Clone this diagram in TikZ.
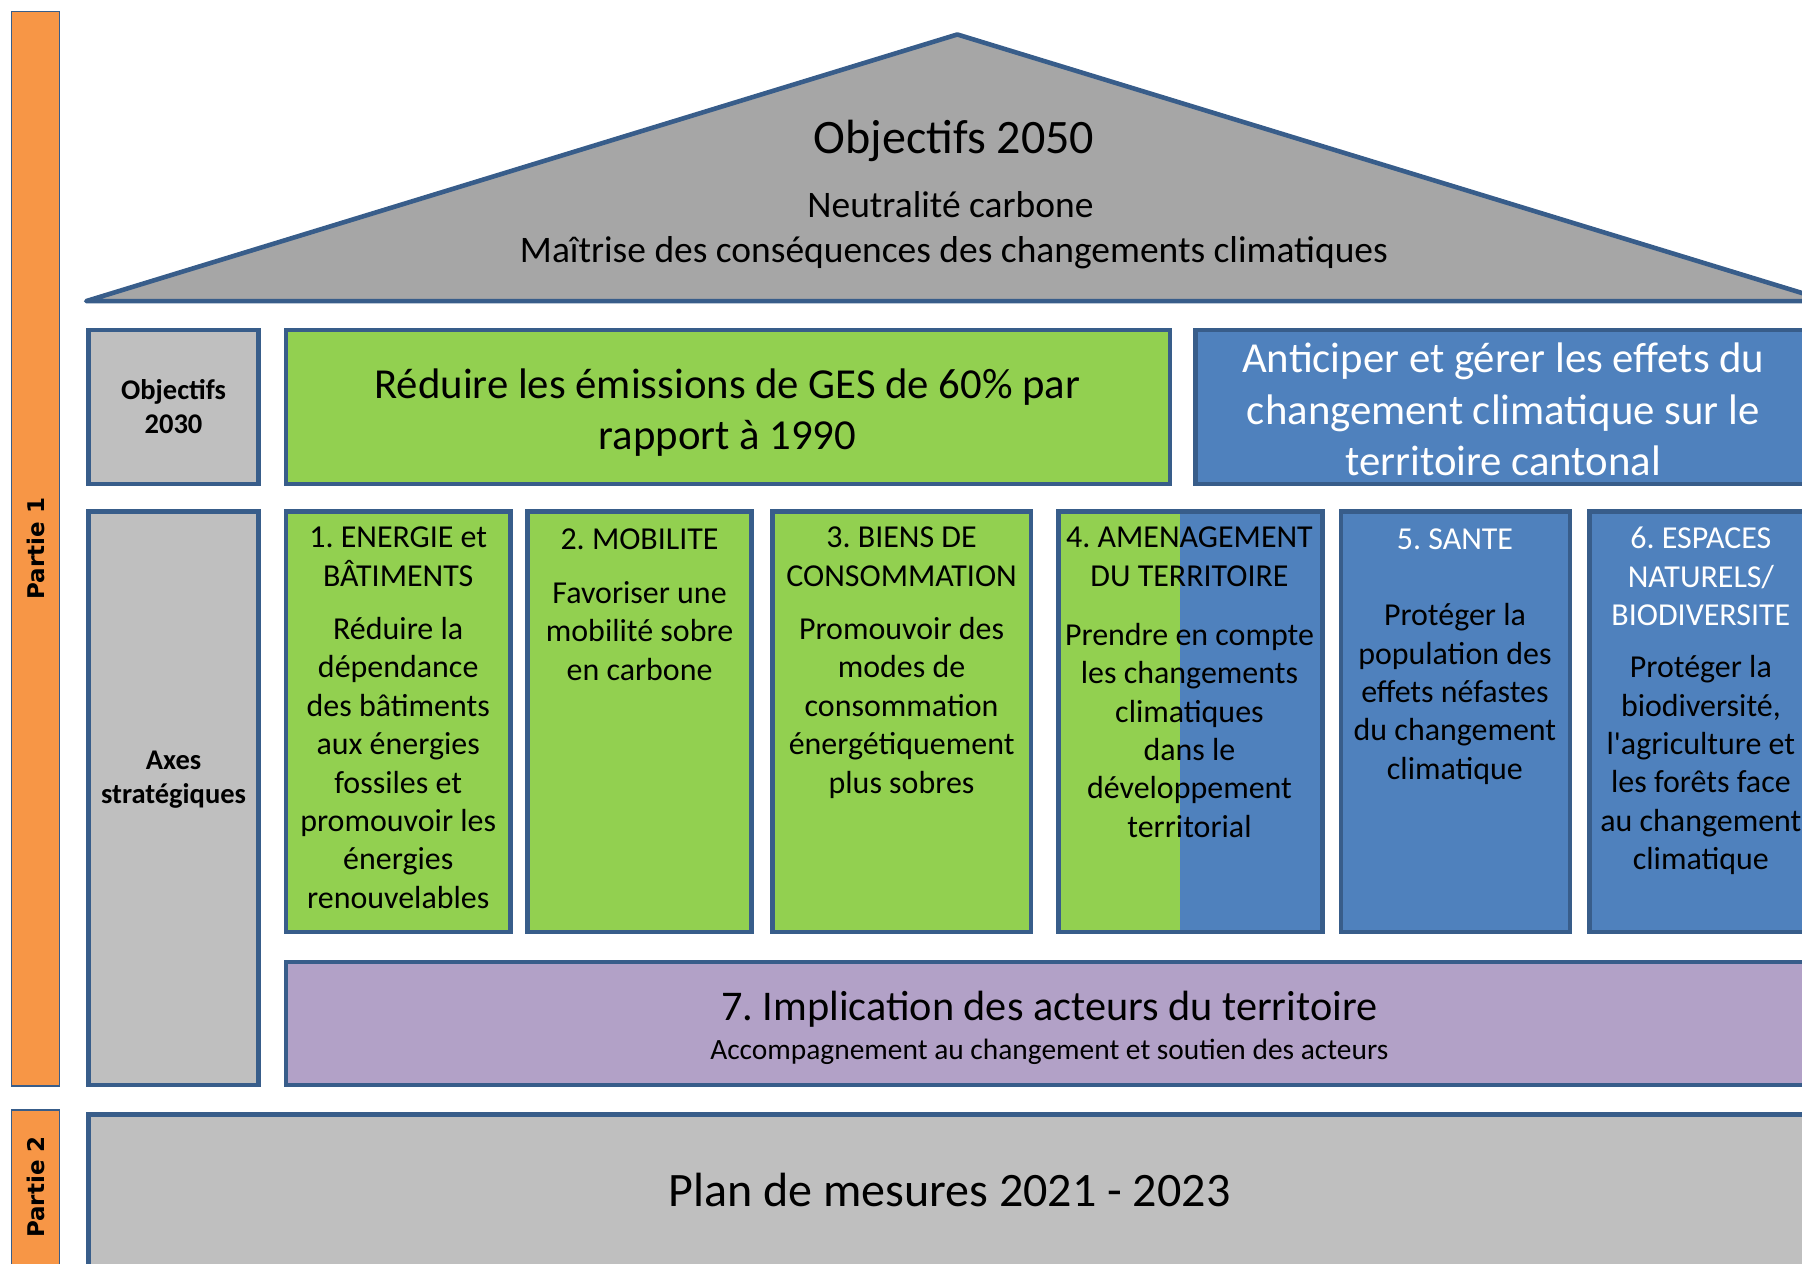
\documentclass[tikz,border=0pt]{standalone}
\usepackage{fontspec}
\setmainfont{Carlito}
\newfontfamily\partiefont{DejaVu Sans}
\definecolor{edge}{HTML}{385D8A}
\definecolor{orangebar}{HTML}{F79646}
\definecolor{roofgray}{HTML}{A6A6A6}
\definecolor{boxgray}{HTML}{BFBFBF}
\definecolor{grn}{HTML}{92D050}
\definecolor{blu}{HTML}{4F81BD}
\definecolor{purp}{HTML}{B2A1C7}
\frenchspacing
\begin{document}
\begin{tikzpicture}[x=1pt,y=-1pt]
       \tikzstyle{box}=[draw=edge, line width=4pt, inner sep=0pt]
       \tikzstyle{partie}=[draw=edge, line width=1.2pt, fill=orangebar, inner sep=0pt]
       \tikzstyle{partietext}=[rotate=90, inner sep=0pt, font=\partiefont\fontsize{20}{24}\selectfont\bfseries]
       \tikzstyle{coltext}=[anchor=north, align=center, inner sep=0pt, font=\fontsize{27.8}{33.4}\selectfont]
       \tikzstyle{bigtext}=[anchor=north, align=center, inner sep=0pt, font=\fontsize{37.2}{44.5}\selectfont]
       \tikzstyle{sidetext}=[align=center, inner sep=0pt, font=\fontsize{24.8}{29.5}\selectfont\bfseries]
       \useasboundingbox (0,0) rectangle (1568,1099);
       \clip (0,0) rectangle (1568,1099);
       \node[partie, minimum width=42pt, minimum height=935pt] (partie1) at (31,477.5) {};
       \node[partietext] (partie1txt) at (partie1.center) {Partie 1};
       \node[partie, minimum width=42pt, minimum height=160pt] (partie2) at (31,1046) {};
       \node[partietext] (partie2txt) at (31,1033) {Partie 2};
       \draw[box, fill=roofgray, line join=round] (75,262) -- (833,30) -- (1591,262) -- cycle;
       \node[anchor=base, inner sep=0pt, font=\fontsize{41.8}{50}\selectfont] (obj2050) at (830,134) {Objectifs 2050};
       \node[anchor=base, inner sep=0pt, font=\fontsize{32.6}{39}\selectfont] (neutre) at (827,189) {Neutralité carbone};
       \node[anchor=base, inner sep=0pt, font=\fontsize{32.6}{39}\selectfont] (maitrise) at (830,228) {Maîtrise des conséquences des changements climatiques};
       \node[box, fill=boxgray, minimum width=148pt, minimum height=134pt] (obj2030) at (151,354) {};
       \node[sidetext] at (obj2030.center) {Objectifs\\2030};
       \node[box, fill=grn, minimum width=769pt, minimum height=134pt] (reduire) at (633.5,354) {};
       \node[bigtext] (reduiretxt) at (633,320.5) {Réduire les émissions de GES de 60\% par\\rapport à 1990};
       \node[box, fill=blu, minimum width=537pt, minimum height=134pt] (anticiper) at (1308.5,354) {};
       \node[bigtext, text=white] (anticipertxt) at (1308,298.5) {Anticiper et gérer les effets du\\changement climatique sur le\\territoire cantonal};
       \node[box, fill=boxgray, minimum width=148pt, minimum height=499pt] (axes) at (151,694.5) {};
       \node[sidetext] at (151,678.5) {Axes\\stratégiques};
       \node[box, fill=grn, minimum width=195pt, minimum height=366pt] (energie) at (346.5,628) {};
       \node[coltext] (energietxt) at (346.5,458.5) {1. ENERGIE et\\BÂTIMENTS\\[13pt]Réduire la\\dépendance\\des bâtiments\\aux énergies\\fossiles et\\promouvoir les\\énergies\\renouvelables};
       \node[box, fill=grn, minimum width=195pt, minimum height=366pt] (mobilite) at (556.5,628) {};
       \node[coltext] (mobilitetxt) at (556.5,459.5) {2. MOBILITE\\[14pt]Favoriser une\\mobilité sobre\\en carbone};
       \node[box, fill=grn, minimum width=225pt, minimum height=366pt] (biens) at (784.5,628) {};
       \node[coltext] (bienstxt) at (784.5,458.5) {3. BIENS DE\\CONSOMMATION\\[13pt]Promouvoir des\\modes de\\consommation\\énergétiquement\\plus sobres};
       \node[box, fill=blu, minimum width=230pt, minimum height=366pt,
             path picture={\fill[grn] (path picture bounding box.north west) rectangle ([xshift=106pt]path picture bounding box.south west);}] (amenag) at (1036,628) {};
       \node[coltext] (amenagtxt) at (1035,458.5) {4. AMENAGEMENT\\DU TERRITOIRE\\[18pt]Prendre en compte\\les changements\\climatiques\\dans le\\développement\\territorial};
       \node[box, fill=blu, minimum width=199pt, minimum height=366pt] (sante) at (1266.5,628) {};
       \node[coltext] (santetxt) at (1266,459.5) {\textcolor{white}{5. SANTE}\\[33.4pt]Protéger la\\population des\\effets néfastes\\du changement\\climatique};
       \node[box, fill=blu, minimum width=194pt, minimum height=366pt] (espaces) at (1480,628) {};
       \node[coltext] (espacestxt) at (1480,458.5) {\textcolor{white}{6. ESPACES}\\\textcolor{white}{NATURELS/}\\\textcolor{white}{BIODIVERSITE}\\[12pt]Protéger la\\biodiversité,\\l\textquotesingle agriculture et\\les forêts face\\au changement\\climatique};
       \node[box, fill=purp, minimum width=1328pt, minimum height=107pt] (implication) at (913,890.5) {};
       \node[anchor=base, inner sep=0pt, font=\fontsize{36.8}{44}\selectfont] (implicationtxt) at (913,888) {7. Implication des acteurs du territoire};
       \node[anchor=base, inner sep=0pt, font=\fontsize{25.6}{30}\selectfont] (accompagnement) at (913,921.5) {Accompagnement au changement et soutien des acteurs};
       \node[box, fill=boxgray, minimum width=1500pt, minimum height=160pt] (plan) at (827,1050) {};
       \node[anchor=base, inner sep=0pt, font=\fontsize{41.8}{50}\selectfont] (plantxt) at (826,1050) {Plan de mesures 2021 - 2023};
\end{tikzpicture}
\end{document}
